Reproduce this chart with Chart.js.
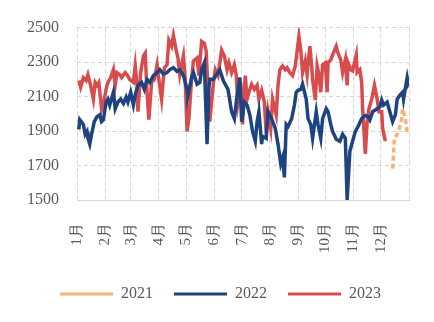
<!DOCTYPE html>
<html><head><meta charset="utf-8">
<script src="https://cdn.jsdelivr.net/npm/chart.js@4/dist/chart.umd.min.js"></script>
<style>html,body{margin:0;padding:0;background:#fff}#wrap{width:434px;height:322px}</style>
</head><body><div id="wrap"><canvas id="c" width="434" height="322"></canvas></div>
<script>
const monthLabels = ['1月','2月','3月','4月','5月','6月','7月','8月','9月','10月','11月','12月'];
const monthStarts = [0,31,59,90,120,151,181,212,243,273,304,334,365];
const yTicks = [1500,1700,1900,2100,2300,2500];

const days2021 = [347,349,352,354,357,358,361,363,365];
const vals2021 = [1682,1858,1881,1909,1972,2029,1972,1887,1898];

const days2022 = [2,3,7,9,11,12,14,16,19,22,25,27,29,32,34,36,40,42,45,48,51,54,56,59,62,64,67,71,74,77,80,84,88,91,95,99,102,106,110,113,117,121,122,126,128,132,135,137,140,143,145,146,150,157,161,166,170,173,176,179,181,184,187,190,193,196,198,200,203,204,208,210,214,218,221,224,226,228,230,232,236,239,241,243,246,248,252,254,257,259,263,265,268,270,274,276,279,281,285,289,292,295,297,300,303,306,309,313,317,320,322,325,330,333,335,337,341,343,347,350,352,355,358,359,363,364,365];
const vals2022 = [1909,1966,1938,1881,1898,1858,1824,1881,1955,1983,1994,1955,1966,2068,2085,2051,2125,2029,2068,2085,2060,2097,2068,2125,2051,2110,2165,2182,2142,2199,2182,2222,2239,2256,2230,2239,2256,2267,2245,2256,2222,2142,2108,2210,2239,2171,2182,2256,2296,1824,2150,2200,2200,2256,2190,2142,2012,1972,2108,2210,1955,2068,2051,1994,1898,1841,1955,2012,1824,1870,1858,2012,1972,1915,1824,1710,1745,1631,1938,1926,1972,2051,2125,2136,2142,2171,2085,1972,1938,1858,2012,1938,1858,1972,2029,2012,1938,1898,1852,1841,1881,1858,1500,1784,1841,1898,1926,1972,1990,1983,1965,2012,2029,2040,2080,2051,2068,2029,1955,1994,2085,2108,2125,2085,2210,2182,2200];

const days2023 = [2,4,7,10,12,15,18,20,22,24,27,30,32,34,37,40,42,44,47,49,53,55,58,62,64,66,67,70,73,75,77,79,82,85,88,90,93,96,99,101,104,106,109,111,113,117,119,121,123,126,128,132,134,137,140,142,144,146,150,152,155,159,162,165,167,170,173,175,177,180,182,185,187,189,192,195,198,200,203,206,208,210,213,215,219,221,223,226,229,231,234,237,240,242,244,246,248,251,253,256,258,259,262,264,266,268,270,273,275,276,279,281,285,287,290,292,295,297,298,301,303,307,308,311,313,314,317,319,321,324,327,330,332,335,336,339];
const vals2023 = [2193,2154,2210,2193,2227,2165,2085,2182,2165,2182,2029,2085,2142,2182,2210,2256,2165,2239,2227,2210,2239,2227,2199,2182,2278,2165,2012,2239,2335,2352,2125,1966,2182,2199,2284,2199,2085,2267,2284,2426,2392,2455,2369,2324,2227,2335,2199,1898,1972,2199,2307,2324,2222,2420,2409,2364,2142,1955,2182,2256,2222,2369,2335,2256,2296,2239,2284,2227,2068,2182,1938,2222,2085,2125,2171,2142,2165,2085,2136,2068,1887,2012,1915,2085,1994,2165,2256,2278,2256,2267,2239,2222,2278,2364,2449,2369,2239,2307,2227,2392,2278,2199,2080,2278,2227,2125,2284,2296,2125,2296,2313,2341,2392,2352,2313,2239,2313,2165,2296,2256,2250,2341,2239,2256,2182,2029,1767,1955,2029,2085,2165,2085,2012,2012,1915,1841];

const toPts = (d, v) => d.map((x, i) => ({x: x, y: v[i]}));
const FONT = "'Liberation Serif', serif";
const TXT = '#595959';
const GRID = '#D6D6D6';

const legendShift = {
  id: 'legendShift',
  afterUpdate(chart) { const l = chart.legend; if (l) { l.left += 8; l.right += 8; } }
};

new Chart(document.getElementById('c'), {
  type: 'line',
  data: {
    datasets: [
      {label: '2021', data: toPts(days2021, vals2021), borderColor: '#F7B27A', borderWidth: 3.5, borderDash: [5, 3], pointRadius: 0, tension: 0, fill: false},
      {label: '2022', data: toPts(days2022, vals2022), borderColor: '#1D4480', borderWidth: 3.5, pointRadius: 0, tension: 0, fill: false},
      {label: '2023', data: toPts(days2023, vals2023), borderColor: '#D84C4E', borderWidth: 3.5, pointRadius: 0, tension: 0, fill: false}
    ]
  },
  plugins: [legendShift],
  options: {
    responsive: false,
    animation: false,
    layout: {padding: {left: 16, right: 25, top: 15, bottom: 10}},
    plugins: {
      tooltip: {enabled: false},
      legend: {
        position: 'bottom',
        labels: {
          usePointStyle: true, pointStyle: 'line', pointStyleWidth: 53,
          color: TXT, font: {family: FONT, size: 16}, padding: 21,
          generateLabels: (chart) => Chart.defaults.plugins.legend.labels.generateLabels(chart).map(l => Object.assign(l, {lineWidth: l.lineDash && l.lineDash.length ? 2 : 3}))
        }
      }
    },
    scales: {
      x: {
        type: 'linear', min: 0, max: 365,
        afterBuildTicks: (s) => { s.ticks = monthStarts.map(v => ({value: v})); },
        afterFit: (s) => { s.paddingRight = 0; s.height = 65; },
        grid: {color: GRID, drawTicks: false},
        border: {display: true, color: GRID, dash: [4, 3]},
        ticks: {
          autoSkip: false, maxRotation: 90, minRotation: 90, padding: 23,
          color: TXT, font: {family: FONT, size: 15},
          callback: (v, i) => (i < monthLabels.length ? monthLabels[i] : '')
        }
      },
      y: {
        min: 1500, max: 2500,
        afterBuildTicks: (s) => { s.ticks = yTicks.map(v => ({value: v})); },
        afterFit: (s) => { s.width = 61; },
        grid: {color: GRID, drawTicks: false},
        border: {display: false, dash: [4, 3]},
        ticks: {padding: 18, color: TXT, font: {family: FONT, size: 16}, callback: (v) => String(v)}
      }
    }
  }
});
</script></body></html>
